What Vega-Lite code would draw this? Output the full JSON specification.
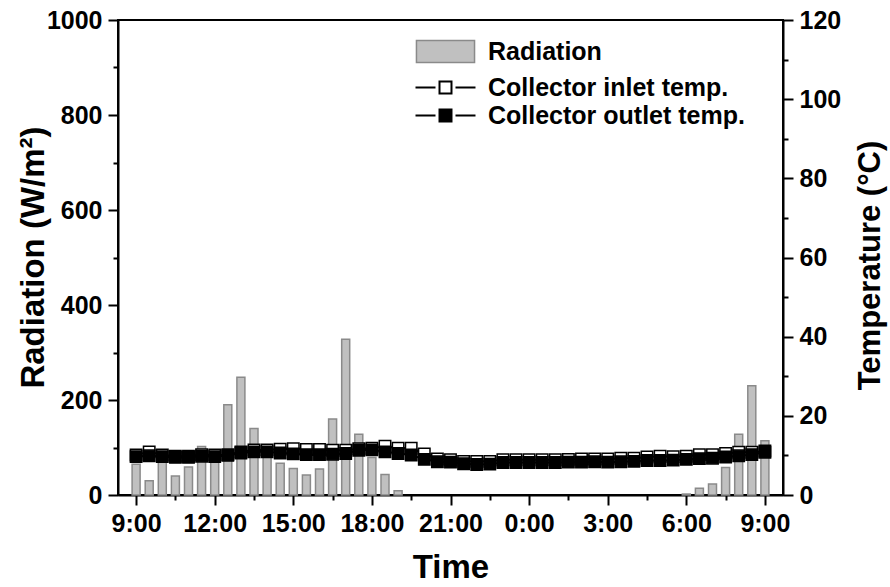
{
  "$schema": "https://vega.github.io/schema/vega-lite/v6.json",
  "width": 665,
  "height": 475,
  "autosize": {"type": "none"},
  "padding": {"left": 118, "top": 20, "right": 107, "bottom": 92},
  "background": "white",
  "config": {
    "view": {"stroke": "black", "strokeWidth": 2},
    "font": "Liberation Sans",
    "axis": {
      "grid": false,
      "domainColor": "black",
      "domainWidth": 2,
      "tickColor": "black",
      "tickWidth": 2,
      "labelFont": "Liberation Sans",
      "labelFontWeight": "bold",
      "labelFontSize": 25,
      "labelColor": "black",
      "titleFont": "Liberation Sans",
      "titleFontWeight": "bold",
      "titleFontSize": 33,
      "titleColor": "black",
      "labelPadding": 6
    },
    "legend": {
      "labelFont": "Liberation Sans",
      "labelFontWeight": "bold",
      "labelFontSize": 25,
      "labelColor": "black",
      "labelLimit": 0
    }
  },
  "data": {
    "values": [
      {"t": 0, "rad": 65, "tin": 10.1, "tout": 9.7},
      {"t": 0.5, "rad": 30, "tin": 10.9, "tout": 9.9},
      {"t": 1, "rad": 88, "tin": 10.1, "tout": 9.7},
      {"t": 1.5, "rad": 40, "tin": 9.8, "tout": 9.5},
      {"t": 2, "rad": 59, "tin": 9.8, "tout": 9.5},
      {"t": 2.5, "rad": 102, "tin": 10.2, "tout": 9.8},
      {"t": 3, "rad": 90, "tin": 10.1, "tout": 9.7},
      {"t": 3.5, "rad": 190, "tin": 10.2, "tout": 10.0},
      {"t": 4, "rad": 248, "tin": 10.9, "tout": 10.6},
      {"t": 4.5, "rad": 140, "tin": 11.4, "tout": 10.9},
      {"t": 5, "rad": 100, "tin": 11.4, "tout": 10.9},
      {"t": 5.5, "rad": 67, "tin": 11.6, "tout": 10.6},
      {"t": 6, "rad": 56, "tin": 11.7, "tout": 10.4},
      {"t": 6.5, "rad": 42, "tin": 11.5, "tout": 10.2},
      {"t": 7, "rad": 55, "tin": 11.5, "tout": 10.2},
      {"t": 7.5, "rad": 160, "tin": 11.3, "tout": 10.3},
      {"t": 8, "rad": 328, "tin": 11.3, "tout": 10.5},
      {"t": 8.5, "rad": 128, "tin": 11.7, "tout": 11.3},
      {"t": 9, "rad": 79, "tin": 11.8, "tout": 11.4},
      {"t": 9.5, "rad": 43, "tin": 12.3, "tout": 10.9},
      {"t": 10, "rad": 9, "tin": 11.8, "tout": 10.5},
      {"t": 10.5, "rad": 0, "tin": 11.8, "tout": 10.1},
      {"t": 11, "rad": 0, "tin": 10.4, "tout": 9.0},
      {"t": 11.5, "rad": 0, "tin": 9.1, "tout": 8.4},
      {"t": 12, "rad": 0, "tin": 8.9, "tout": 8.3},
      {"t": 12.5, "rad": 0, "tin": 8.5, "tout": 7.9},
      {"t": 13, "rad": 0, "tin": 8.5, "tout": 7.7},
      {"t": 13.5, "rad": 0, "tin": 8.5, "tout": 7.8},
      {"t": 14, "rad": 0, "tin": 8.9, "tout": 8.2},
      {"t": 14.5, "rad": 0, "tin": 8.9, "tout": 8.2},
      {"t": 15, "rad": 0, "tin": 8.9, "tout": 8.2},
      {"t": 15.5, "rad": 0, "tin": 8.9, "tout": 8.2},
      {"t": 16, "rad": 0, "tin": 8.9, "tout": 8.2},
      {"t": 16.5, "rad": 0, "tin": 9.0, "tout": 8.3},
      {"t": 17, "rad": 0, "tin": 9.1, "tout": 8.3},
      {"t": 17.5, "rad": 0, "tin": 9.1, "tout": 8.4},
      {"t": 18, "rad": 0, "tin": 9.1, "tout": 8.3},
      {"t": 18.5, "rad": 0, "tin": 9.3, "tout": 8.4},
      {"t": 19, "rad": 0, "tin": 9.3, "tout": 8.5},
      {"t": 19.5, "rad": 0, "tin": 9.6, "tout": 8.7},
      {"t": 20, "rad": 0, "tin": 9.8, "tout": 8.7},
      {"t": 20.5, "rad": 0, "tin": 9.7, "tout": 8.8},
      {"t": 21, "rad": 2, "tin": 9.8, "tout": 9.0},
      {"t": 21.5, "rad": 14, "tin": 10.2, "tout": 9.2},
      {"t": 22, "rad": 23, "tin": 10.2, "tout": 9.3},
      {"t": 22.5, "rad": 58, "tin": 10.5, "tout": 9.6},
      {"t": 23, "rad": 128, "tin": 10.8, "tout": 9.9},
      {"t": 23.5, "rad": 230, "tin": 10.8, "tout": 10.2},
      {"t": 24, "rad": 114, "tin": 11.1, "tout": 10.8}
    ]
  },
  "encoding": {
    "x": {
      "field": "t", "type": "quantitative",
      "scale": {"domain": [-0.5, 24.5], "nice": false, "zero": false},
      "axis": {
        "orient": "bottom",
        "title": "Time",
        "titleBaseline": "middle",
        "titleY": 72,
        "values": [0, 1.5, 3, 4.5, 6, 7.5, 9, 10.5, 12, 13.5, 15, 16.5, 18, 19.5, 21, 22.5, 24],
        "labelExpr": "datum.value % 3 == 0 ? ((9 + datum.value) % 24) + ':00' : ''",
        "tickSize": {"condition": {"test": "datum.value % 3 != 0", "value": 5}, "value": 10}
      }
    }
  },
  "layer": [
    {
      "transform": [{"filter": "datum.rad > 0"}],
      "mark": {"type": "bar", "orient": "vertical", "size": 8, "stroke": "#8a8a8a", "strokeWidth": 1.5},
      "encoding": {
        "y": {
          "field": "rad", "type": "quantitative",
          "scale": {"domain": [0, 1000], "nice": false},
          "axis": {
            "orient": "left",
            "title": "Radiation (W/m²)",
            "titleBaseline": "middle",
            "titleX": -85,
            "titleY": 237,
            "titleAngle": -90,
            "values": [0, 100, 200, 300, 400, 500, 600, 700, 800, 900, 1000],
            "labelExpr": "datum.value % 200 == 0 ? datum.value : ''",
            "tickSize": {"condition": {"test": "datum.value % 200 != 0", "value": 5}, "value": 10}
          }
        },
        "fill": {
          "datum": "Radiation", "type": "nominal",
          "scale": {"domain": ["Radiation"], "range": ["#c0c0c0"]},
          "legend": {
            "title": null,
            "orient": "none",
            "legendX": 315,
            "legendY": 19,
            "padding": 0,
            "symbolSize": 484,
            "symbolType": "M-2.64,-1H2.64V1H-2.64Z",
            "symbolStrokeColor": "#8a8a8a",
            "symbolStrokeWidth": 1.5,
            "symbolOpacity": 1,
            "labelOffset": 30
          }
        }
      }
    },
    {
      "transform": [{"fold": ["tin", "tout"], "as": ["key", "temp"]},
        {"calculate": "datum.key == 'tin' ? 'Collector inlet temp.' : 'Collector outlet temp.'", "as": "series"}],
      "encoding": {
        "y": {
          "field": "temp", "type": "quantitative",
          "scale": {"domain": [0, 120], "nice": false},
          "axis": {
            "orient": "right",
            "title": "Temperature (°C)",
            "titleFontSize": 31,
            "titleBaseline": "middle",
            "titleAngle": -90,
            "titleX": 87,
            "titleY": 245,
            "values": [0, 10, 20, 30, 40, 50, 60, 70, 80, 90, 100, 110, 120],
            "labelExpr": "datum.value % 20 == 0 ? datum.value : ''",
            "tickSize": {"condition": {"test": "datum.value % 20 != 0", "value": 5}, "value": 10}
          }
        }
      },
      "layer": [
        {
          "mark": {"type": "line", "color": "black", "strokeWidth": 2},
          "encoding": {"detail": {"field": "series"}}
        },
        {
          "mark": {"type": "point", "shape": "square", "size": 130, "stroke": "black", "strokeWidth": 1.5, "opacity": 1},
          "encoding": {
            "fill": {
              "field": "series", "type": "nominal",
              "scale": {"domain": ["Collector inlet temp.", "Collector outlet temp."], "range": ["#ffffff", "#000000"]},
              "legend": {
                "title": null,
                "orient": "none",
                "legendX": 315,
                "legendY": 55,
                "padding": 0,
                "symbolSize": 484,
                "symbolType": "M-2.727,0H-0.909M0.909,0H2.727M-0.545,-0.545H0.545V0.545H-0.545Z",
                "symbolStrokeColor": "black",
                "symbolStrokeWidth": 2,
                "symbolOpacity": 1,
                "labelOffset": 30,
                "rowPadding": 2
              }
            }
          }
        }
      ]
    }
  ],
  "resolve": {"scale": {"y": "independent", "fill": "independent"}, "axis": {"y": "independent"}, "legend": {"fill": "independent"}}
}
